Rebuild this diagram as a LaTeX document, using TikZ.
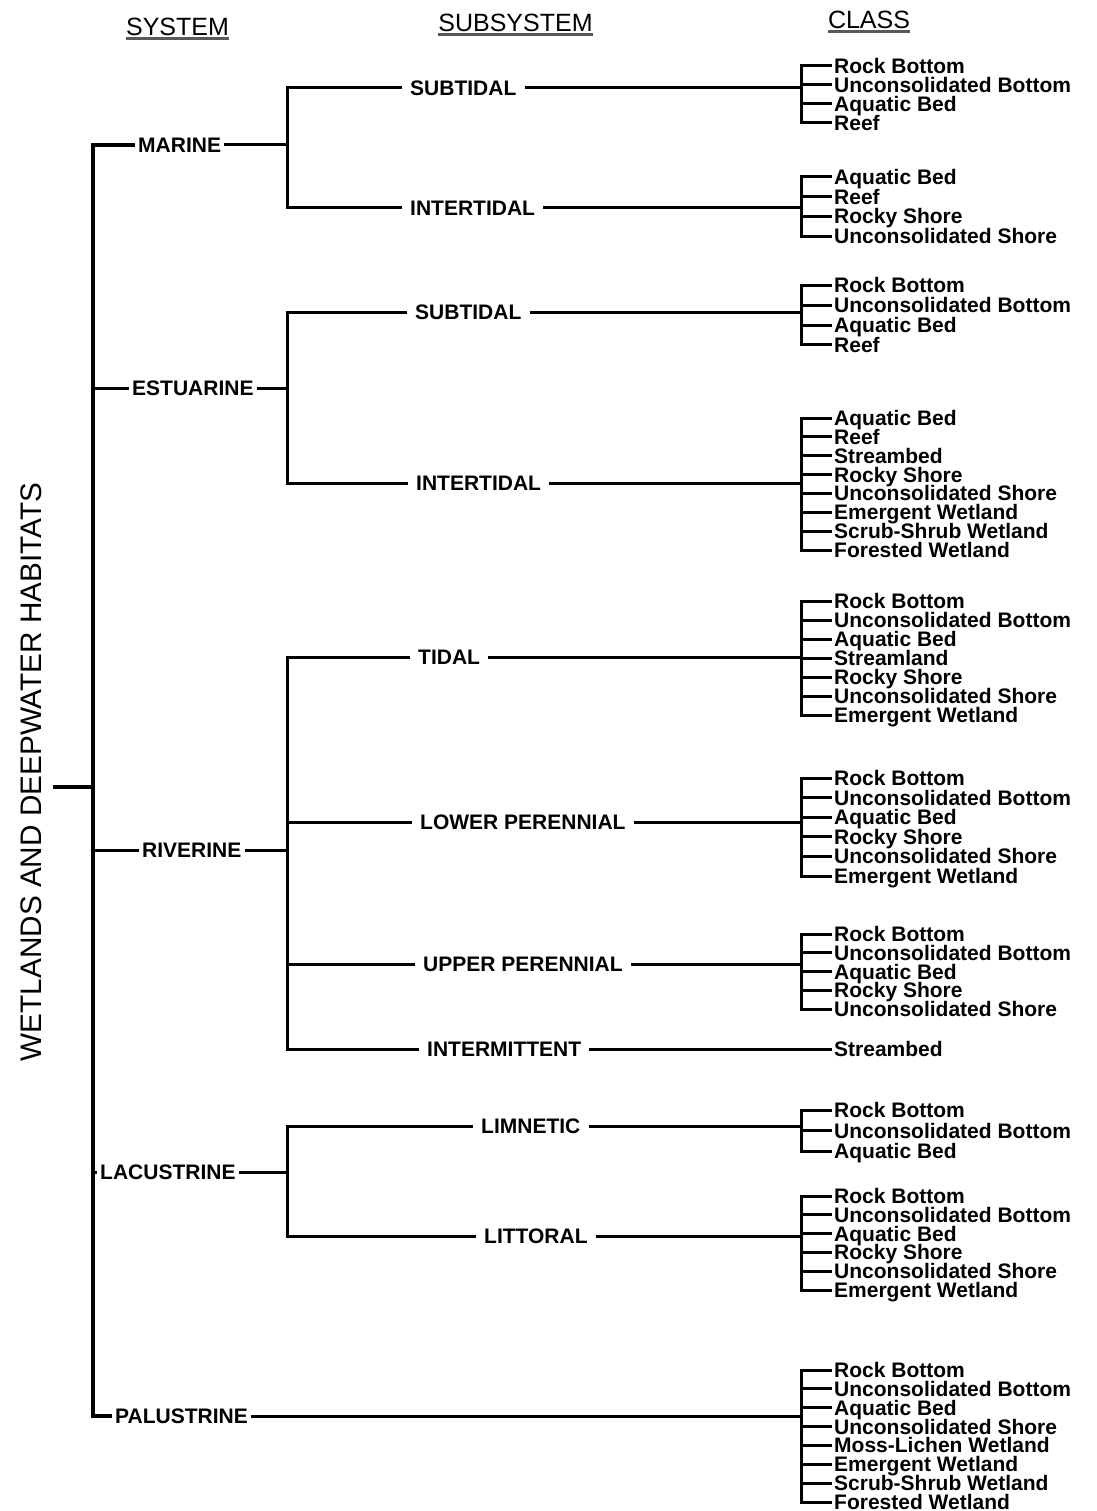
\documentclass[tikz,border=0pt]{standalone}
\usepackage{fontspec}
\setmainfont{Liberation Sans}
\usetikzlibrary{calc}

\def\trkx{93}
\def\sbrx{287}
\def\cbrx{801}
\def\clsx{832}

\tikzset{
  link/.style={line width=3pt, black},
  trunk/.style={line width=3.2pt, black},
  headbox/.style={font=\fontsize{25}{25}\selectfont, inner sep=0pt, text height=18pt, text depth=0pt},
  headline/.style={line width=3pt, black!65},
  sysbox/.style={font=\fontsize{21}{21}\selectfont\bfseries, anchor=west, inner xsep=3pt, inner ysep=0pt, text height=15pt, text depth=0pt},
  subbox/.style={sysbox, inner xsep=8pt},
  clsbox/.style={sysbox, inner xsep=2pt},
}

% #1 prefix, #2 subsystem node, #3 first y, #4 step, #5 classes
\newcommand{\clsgroup}[5]{%
  \foreach \cls [count=\i from 0] in {#5} {
    \node[clsbox] (#1-\i) at (\clsx,{#3+\i*#4}) {\cls};
    \draw[link] (cbr |- #1-\i.west) -- (#1-\i.west);
    \xdef\lastcls{\i}
  }
  \draw[link] (#1-0.west) -- (cbr |- #1-0.west) -- (cbr |- #1-\lastcls.west) -- (#1-\lastcls.west);
  \draw[link] (#2.east) -- (cbr |- #2.east);
}

\begin{document}
\begin{tikzpicture}[x=1pt,y=-1pt]
  \useasboundingbox (0,0) rectangle (1096,1511);
  \coordinate (trk) at (\trkx,0);
  \coordinate (sbr) at (\sbrx,0);
  \coordinate (cbr) at (\cbrx,0);

  % headings
  \node[headbox] (hsys) at (177.5,26.5) {SYSTEM};
  \node[headbox] (hsub) at (515.5,22.5) {SUBSYSTEM};
  \node[headbox] (hcls) at (869,19.5) {CLASS};
  \foreach \h in {hsys,hsub,hcls}
    \draw[headline] ([yshift=-2.5pt]\h.south west) -- ([yshift=-2.5pt]\h.south east);

  % root
  \node[font=\fontsize{29.7}{29.7}\selectfont, rotate=90, inner sep=0pt, text height=21.3pt, text depth=0pt] (root) at (31,772) {WETLANDS AND DEEPWATER HABITATS};
  \coordinate (stub) at (53,787);
  \draw[trunk] (stub) -- (trk |- stub);

  % systems
  \node[sysbox] (marine) at (135,145) {MARINE};
  \node[sysbox] (estu) at (129,388) {ESTUARINE};
  \node[sysbox] (river) at (139,850) {RIVERINE};
  \node[sysbox] (lacus) at (97,1172) {LACUSTRINE};
  \node[sysbox] (palus) at (112,1416) {PALUSTRINE};
  \draw[trunk] (marine.west) -- (trk |- marine.west) -- (trk |- palus.west) -- (palus.west);
  \foreach \s in {estu,river,lacus}
    \draw[link] (trk |- \s.west) -- (\s.west);

  % subsystems
  \node[subbox] (msub) at (402,88) {SUBTIDAL};
  \node[subbox] (mint) at (402,208) {INTERTIDAL};
  \node[subbox] (esub) at (407,312) {SUBTIDAL};
  \node[subbox] (eint) at (408,483) {INTERTIDAL};
  \node[subbox] (rtid) at (410,657) {TIDAL};
  \node[subbox] (rlow) at (412,822) {LOWER PERENNIAL};
  \node[subbox] (rupp) at (415,964) {UPPER PERENNIAL};
  \node[subbox] (rint) at (419,1049) {INTERMITTENT};
  \node[subbox] (llim) at (473,1126) {LIMNETIC};
  \node[subbox] (llit) at (476,1236) {LITTORAL};

  \draw[link] (msub.west) -- (sbr |- msub.west) -- (sbr |- mint.west) -- (mint.west);
  \draw[link] (marine.east) -- (sbr |- marine.east);
  \draw[link] (esub.west) -- (sbr |- esub.west) -- (sbr |- eint.west) -- (eint.west);
  \draw[link] (estu.east) -- (sbr |- estu.east);
  \draw[link] (rtid.west) -- (sbr |- rtid.west) -- (sbr |- rint.west) -- (rint.west);
  \foreach \s in {rlow,rupp}
    \draw[link] (sbr |- \s.west) -- (\s.west);
  \draw[link] (river.east) -- (sbr |- river.east);
  \draw[link] (llim.west) -- (sbr |- llim.west) -- (sbr |- llit.west) -- (llit.west);
  \draw[link] (lacus.east) -- (sbr |- lacus.east);

  % classes
  \clsgroup{ms}{msub}{66}{19}{Rock Bottom,Unconsolidated Bottom,Aquatic Bed,Reef}
  \clsgroup{mi}{mint}{177}{19.7}{Aquatic Bed,Reef,Rocky Shore,Unconsolidated Shore}
  \clsgroup{es}{esub}{285.5}{19.8}{Rock Bottom,Unconsolidated Bottom,Aquatic Bed,Reef}
  \clsgroup{ei}{eint}{418}{18.86}{Aquatic Bed,Reef,Streambed,Rocky Shore,Unconsolidated Shore,Emergent Wetland,Scrub-Shrub Wetland,Forested Wetland}
  \clsgroup{rt}{rtid}{601}{19}{Rock Bottom,Unconsolidated Bottom,Aquatic Bed,Streamland,Rocky Shore,Unconsolidated Shore,Emergent Wetland}
  \clsgroup{rl}{rlow}{778}{19.6}{Rock Bottom,Unconsolidated Bottom,Aquatic Bed,Rocky Shore,Unconsolidated Shore,Emergent Wetland}
  \clsgroup{ru}{rupp}{934}{18.75}{Rock Bottom,Unconsolidated Bottom,Aquatic Bed,Rocky Shore,Unconsolidated Shore}
  \node[clsbox] (ri-0) at (\clsx,1049) {Streambed};
  \draw[link] (rint.east) -- (ri-0.west);
  \clsgroup{lm}{llim}{1110}{20.5}{Rock Bottom,Unconsolidated Bottom,Aquatic Bed}
  \clsgroup{lt}{llit}{1196}{18.8}{Rock Bottom,Unconsolidated Bottom,Aquatic Bed,Rocky Shore,Unconsolidated Shore,Emergent Wetland}
  \clsgroup{pa}{palus}{1370}{18.86}{Rock Bottom,Unconsolidated Bottom,Aquatic Bed,Unconsolidated Shore,Moss-Lichen Wetland,Emergent Wetland,Scrub-Shrub Wetland,Forested Wetland}
\end{tikzpicture}
\end{document}
